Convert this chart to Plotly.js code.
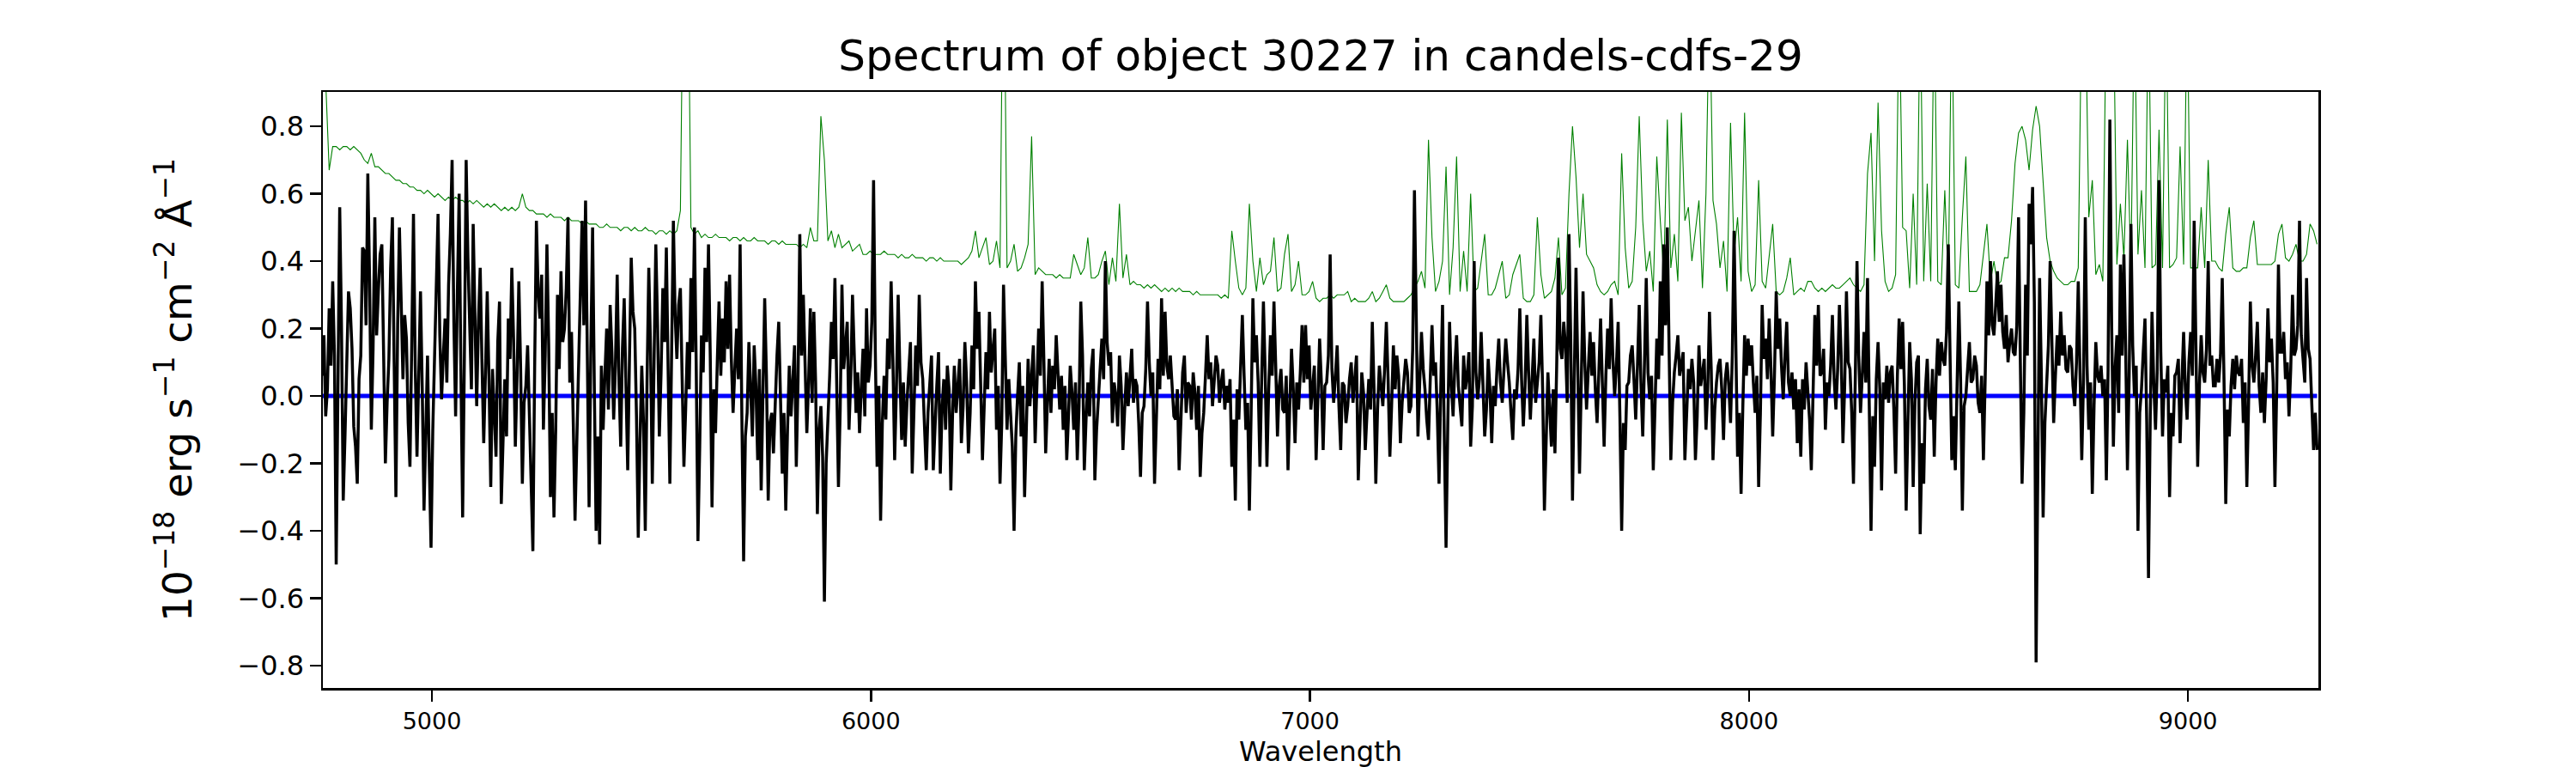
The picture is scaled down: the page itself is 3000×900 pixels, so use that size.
<!DOCTYPE html>
<html>
<head>
<meta charset="utf-8">
<script src="https://cdn.plot.ly/plotly-3.0.1.min.js"></script>
<style>
  html, body { margin: 0; padding: 0; background: #fff; }
</style>
</head>
<body>
<div id="chart" style="width:3000px;height:900px;"></div>
<script>
// flux grid (Angstrom): one row = 40 pixels = 160 A
const fluxStart = 4750;
const fluxStep = 4;

// flux, 10^-18 erg/s/cm2/A
const flux = [
  0.06,0.18,-0.06,0.02,0.26,0.09,0.34,0.12,-0.50,-0.05,0.56,0.21,-0.31,-0.12,0.06,0.31,0.26,0.14,-0.09,-0.15,-0.26,0.05,0.12,0.44,0.43,0.21,0.66,0.35,-0.10,0.14,0.53,0.18,0.31,0.42,0.45,0.08,-0.20,-0.02,0.11,0.38,
  0.53,0.10,-0.30,0.21,0.50,0.28,0.05,0.24,0.17,-0.08,-0.21,0.15,0.54,0.09,-0.18,0.06,0.31,0.02,-0.34,-0.11,0.12,-0.20,-0.45,-0.10,0.12,0.30,0.54,0.18,-0.01,0.12,0.23,0.04,0.33,0.48,0.70,0.22,-0.06,0.31,0.60,0.08,
  -0.36,0.12,0.70,0.41,0.20,0.02,0.51,0.19,-0.03,0.22,0.38,0.10,-0.14,0.07,0.31,0.05,-0.27,0.08,-0.04,-0.18,0.16,0.28,-0.32,-0.09,0.05,-0.12,0.23,0.11,0.38,0.17,-0.15,0.06,0.34,0.09,-0.26,-0.02,0.03,0.15,-0.07,-0.21,
  -0.46,0.08,0.52,0.31,0.23,0.36,-0.10,0.12,0.45,0.15,-0.30,-0.05,-0.36,-0.10,0.30,0.08,0.37,0.16,0.20,0.32,0.53,0.04,0.19,-0.08,-0.37,-0.14,0.06,0.28,0.52,0.21,0.58,0.12,-0.33,0.14,0.50,0.02,-0.40,-0.12,-0.44,0.09,
  -0.10,0.06,0.20,-0.04,0.27,0.13,-0.07,0.09,0.36,0.05,-0.15,0.14,0.29,0.03,-0.22,0.11,0.41,0.25,0.20,-0.06,-0.42,-0.13,0.09,-0.08,-0.40,0.04,0.38,0.14,-0.26,0.10,0.45,0.21,-0.12,0.07,0.32,0.16,0.44,0.08,-0.26,0.13,
  0.52,0.24,0.11,0.27,0.32,0.05,-0.21,-0.04,0.16,0.02,0.35,0.13,0.50,0.09,-0.43,-0.15,0.18,0.07,0.38,0.16,0.45,0.12,-0.33,0.02,-0.11,0.10,0.28,0.06,0.23,0.10,0.34,0.14,0.36,0.11,-0.05,0.08,0.20,0.05,0.45,-0.06,
  -0.49,-0.12,-0.05,0.16,0.02,-0.12,0.15,0.03,-0.19,0.08,-0.28,-0.04,0.29,0.06,-0.31,-0.08,-0.05,-0.17,0.00,0.12,0.22,0.03,-0.23,-0.05,-0.34,-0.10,0.09,-0.06,0.03,0.15,-0.21,0.05,0.48,0.12,0.30,0.07,-0.11,0.04,0.26,-0.02,
  0.25,0.04,-0.35,-0.10,-0.03,-0.18,-0.61,-0.20,-0.08,0.06,0.22,0.11,0.35,0.05,-0.27,-0.04,0.33,0.08,0.15,0.22,-0.10,0.05,0.30,0.12,-0.05,0.07,-0.11,0.02,0.14,-0.06,0.26,0.04,0.09,0.22,0.64,0.13,-0.21,0.03,-0.37,-0.08,
  0.06,-0.07,0.17,0.08,0.34,0.11,-0.19,0.02,0.30,0.07,-0.13,0.04,-0.15,-0.02,0.08,0.16,-0.23,-0.06,0.15,0.03,0.30,0.10,0.05,-0.09,-0.22,-0.05,0.05,0.12,-0.22,-0.08,0.03,0.13,-0.23,-0.04,0.05,-0.10,0.09,0.02,-0.28,-0.05,
  0.09,-0.05,0.02,0.11,-0.14,-0.03,0.16,0.04,-0.17,-0.05,0.15,0.02,0.34,0.14,0.25,0.06,-0.19,-0.03,0.13,0.02,0.25,0.07,0.13,0.20,-0.10,0.03,-0.26,-0.08,0.33,0.09,-0.10,0.05,-0.06,-0.15,-0.40,-0.12,0.00,0.10,-0.12,0.03,
  -0.30,-0.06,0.11,-0.03,0.07,0.15,-0.14,0.02,0.20,0.06,0.34,0.10,-0.17,-0.02,0.11,-0.05,0.09,0.02,0.18,0.07,-0.04,0.06,-0.10,0.03,-0.19,-0.06,0.09,0.01,-0.10,0.04,-0.19,-0.03,0.28,0.12,-0.22,-0.07,0.04,-0.06,0.08,0.14,
  -0.25,-0.10,-0.02,0.08,0.17,0.05,0.40,0.16,0.09,0.13,-0.08,0.04,0.00,-0.09,0.12,0.03,-0.16,-0.04,0.07,-0.03,0.06,0.14,-0.02,0.05,0.03,-0.08,-0.24,-0.05,-0.03,0.08,0.28,0.10,0.00,0.07,-0.26,-0.09,0.11,0.02,0.29,0.06,
  0.25,0.09,0.05,0.12,0.04,-0.06,-0.07,0.02,-0.22,-0.08,0.07,0.12,-0.05,0.04,0.03,-0.07,0.07,0.01,-0.10,0.03,-0.24,-0.11,-0.05,0.06,0.18,0.05,0.10,-0.03,0.05,0.12,0.09,-0.02,0.04,0.08,-0.04,0.03,-0.02,0.05,-0.21,-0.07,
  -0.31,0.02,-0.07,0.08,0.24,0.06,-0.10,-0.02,-0.34,-0.05,0.29,0.10,0.18,0.04,-0.21,0.05,0.28,0.07,-0.21,0.02,0.18,0.06,0.28,0.09,-0.12,0.03,0.08,-0.04,-0.05,0.06,-0.22,-0.03,0.14,0.02,-0.14,0.04,-0.04,0.07,0.21,0.04,
  0.21,0.05,0.15,-0.04,0.03,0.09,-0.19,-0.02,0.17,0.04,-0.16,0.03,0.04,0.12,0.42,0.08,-0.02,0.06,0.15,-0.03,-0.16,0.04,0.03,-0.08,-0.03,0.05,0.10,-0.02,0.06,0.12,-0.25,-0.06,0.07,0.01,-0.16,-0.05,0.05,-0.04,0.22,0.02,
  -0.26,-0.04,0.09,0.03,-0.03,0.08,0.22,0.05,-0.18,-0.03,0.15,0.02,0.12,0.06,-0.14,-0.02,0.04,0.11,0.07,-0.05,-0.03,0.14,0.61,0.20,-0.12,0.04,0.19,0.08,0.02,-0.07,-0.13,0.05,0.21,0.06,0.10,-0.05,-0.26,0.03,0.27,-0.12,
  -0.45,-0.08,0.22,0.04,-0.06,0.09,0.18,0.03,-0.02,-0.09,0.12,0.02,0.06,0.13,-0.15,-0.03,0.40,0.07,-0.01,0.05,0.19,0.06,-0.12,-0.04,0.11,0.02,-0.14,0.03,-0.03,0.08,0.17,0.04,-0.02,0.08,0.17,0.10,0.04,-0.05,-0.13,0.02,
  -0.01,0.08,0.26,0.05,-0.09,0.03,0.24,0.07,-0.07,0.05,0.17,-0.02,0.03,0.10,0.24,0.02,-0.34,-0.10,0.07,-0.04,-0.15,0.02,-0.17,0.09,0.41,0.14,0.11,0.22,0.15,-0.02,0.48,0.17,-0.31,0.05,0.38,0.09,-0.23,0.04,0.31,0.10,
  -0.04,0.08,0.19,0.06,0.16,0.02,-0.08,0.07,0.23,0.04,-0.15,0.06,0.20,0.08,0.29,0.11,0.00,0.09,0.22,-0.06,-0.40,-0.08,-0.16,0.03,0.04,0.12,0.15,0.05,-0.07,0.09,0.27,0.03,-0.12,0.10,0.35,0.07,-0.01,0.06,-0.22,-0.03,
  0.17,0.05,0.34,0.12,0.45,0.21,0.50,0.14,-0.19,-0.02,0.07,0.12,0.18,0.06,0.10,0.13,-0.19,-0.05,0.08,0.02,0.11,0.04,-0.19,-0.06,0.15,0.03,0.08,0.11,-0.10,0.02,0.25,0.08,-0.19,-0.04,0.04,0.09,0.11,0.02,-0.13,0.05,
  0.10,0.03,-0.08,0.12,0.49,0.09,-0.18,-0.05,-0.29,-0.03,0.18,0.06,0.17,0.09,0.15,0.04,-0.05,0.06,-0.27,-0.05,0.27,0.11,0.17,0.05,0.23,0.08,-0.12,0.06,0.31,0.14,0.23,0.09,-0.01,0.12,0.22,0.04,0.00,0.07,-0.04,0.05,
  -0.14,0.02,-0.18,0.05,-0.04,0.10,0.02,-0.07,-0.22,0.03,0.24,0.09,0.27,0.06,0.07,0.14,-0.10,0.04,0.00,0.09,0.24,0.05,-0.04,0.08,0.27,0.12,-0.14,0.03,0.31,0.10,0.08,-0.05,-0.26,0.04,0.40,0.12,-0.05,0.06,0.19,0.04,
  0.35,-0.03,-0.40,-0.06,-0.21,0.05,0.16,0.02,-0.28,0.04,-0.01,0.09,-0.02,0.07,0.09,-0.04,-0.23,0.06,0.23,0.08,0.22,0.03,-0.34,-0.08,0.16,0.05,-0.27,-0.02,0.10,0.12,-0.41,-0.14,-0.26,0.02,0.11,-0.03,-0.07,0.08,-0.18,0.04,
  0.17,0.06,0.16,0.11,0.09,0.19,0.45,0.12,-0.19,-0.06,-0.22,0.03,0.28,0.05,-0.34,-0.03,0.00,0.08,0.16,0.04,0.05,0.12,0.09,-0.02,-0.05,0.06,-0.19,0.05,0.34,0.18,0.40,0.21,0.18,0.27,0.37,0.22,0.33,0.19,0.14,0.24,
  0.10,0.16,0.20,0.13,0.12,0.21,0.53,0.11,-0.26,-0.05,0.33,0.12,0.57,0.45,0.62,0.28,-0.79,-0.20,0.35,0.06,-0.36,-0.08,0.04,0.15,0.40,0.10,-0.08,0.06,0.18,0.09,0.25,0.12,0.18,0.08,0.07,0.15,0.14,0.03,-0.03,0.10,
  0.34,0.07,-0.19,0.05,0.53,0.09,-0.10,0.04,-0.29,-0.03,0.16,0.06,0.04,0.09,0.00,0.05,-0.25,0.08,0.82,0.22,-0.15,0.08,0.18,-0.05,0.39,0.12,0.42,0.14,-0.22,0.06,0.51,0.15,0.00,0.09,-0.40,-0.05,0.02,0.13,0.23,-0.08,
  -0.54,-0.06,0.25,0.04,-0.10,0.08,0.64,0.13,-0.12,0.05,0.01,0.09,-0.30,-0.05,-0.12,0.06,0.07,0.11,-0.14,0.04,0.19,0.02,-0.07,0.10,0.19,0.06,0.52,0.15,-0.21,0.03,0.18,0.07,0.04,0.14,0.40,0.09,0.12,0.03,0.03,0.11,
  0.04,0.12,0.35,0.05,-0.32,-0.04,-0.12,0.03,0.11,0.02,0.12,0.07,0.06,0.11,-0.08,0.04,-0.27,-0.02,0.28,0.09,0.04,0.12,0.22,0.03,-0.05,0.07,-0.08,0.05,0.26,0.10,0.17,0.04,-0.27,0.02,0.39,0.13,0.13,0.19,0.05,0.10,
  -0.06,0.08,0.30,0.12,0.14,0.21,0.52,0.18,0.11,0.04,0.35,0.14,0.11,-0.03,-0.16,-0.05,-0.16
];

// noise / sky spectrum grid (Angstrom): one row = 20 pixels = 160 A
const noiseStart = 4750;
const noiseStep = 8;

const noise = [
  1.20,0.95,0.67,0.74,0.74,0.73,0.74,0.74,0.73,0.74,0.73,0.72,0.70,0.69,0.72,0.68,0.68,0.67,0.66,0.66,
  0.65,0.64,0.64,0.63,0.63,0.62,0.62,0.61,0.61,0.60,0.61,0.60,0.59,0.60,0.59,0.58,0.59,0.58,0.59,0.58,
  0.58,0.57,0.58,0.57,0.58,0.57,0.56,0.57,0.56,0.57,0.56,0.55,0.56,0.55,0.56,0.55,0.56,0.60,0.56,0.55,
  0.55,0.54,0.54,0.54,0.53,0.54,0.53,0.53,0.53,0.52,0.53,0.52,0.52,0.52,0.51,0.52,0.51,0.51,0.51,0.50,
  0.50,0.51,0.50,0.50,0.50,0.49,0.50,0.50,0.49,0.50,0.49,0.49,0.50,0.49,0.49,0.48,0.49,0.49,0.48,0.49,
  0.48,0.49,0.55,1.50,1.50,0.50,0.48,0.49,0.47,0.48,0.47,0.47,0.48,0.47,0.47,0.47,0.46,0.47,0.47,0.46,
  0.47,0.46,0.46,0.47,0.46,0.46,0.46,0.45,0.46,0.46,0.45,0.46,0.45,0.45,0.45,0.45,0.44,0.45,0.44,0.50,
  0.46,0.46,0.83,0.70,0.46,0.49,0.44,0.48,0.44,0.45,0.46,0.43,0.44,0.45,0.42,0.42,0.43,0.42,0.42,0.42,
  0.43,0.42,0.42,0.42,0.41,0.42,0.41,0.41,0.42,0.41,0.41,0.41,0.40,0.41,0.41,0.40,0.41,0.40,0.40,0.40,
  0.40,0.40,0.39,0.40,0.41,0.43,0.49,0.41,0.44,0.47,0.39,0.40,0.46,0.38,1.50,0.38,0.40,0.45,0.37,0.38,
  0.41,0.45,0.77,0.36,0.38,0.37,0.36,0.36,0.36,0.35,0.36,0.35,0.35,0.35,0.42,0.39,0.36,0.38,0.47,0.35,
  0.35,0.36,0.40,0.43,0.33,0.41,0.34,0.57,0.35,0.42,0.33,0.34,0.33,0.33,0.32,0.33,0.32,0.33,0.32,0.31,
  0.32,0.31,0.32,0.31,0.32,0.31,0.31,0.31,0.30,0.31,0.30,0.30,0.30,0.30,0.30,0.30,0.29,0.30,0.29,0.49,
  0.40,0.32,0.30,0.32,0.57,0.40,0.31,0.41,0.33,0.36,0.37,0.47,0.31,0.32,0.42,0.48,0.31,0.33,0.40,0.30,
  0.30,0.31,0.34,0.29,0.28,0.29,0.29,0.30,0.29,0.30,0.30,0.30,0.31,0.28,0.29,0.28,0.28,0.28,0.29,0.31,
  0.28,0.29,0.31,0.33,0.29,0.28,0.28,0.28,0.28,0.29,0.30,0.32,0.34,0.37,0.32,0.76,0.47,0.31,0.34,0.40,
  0.68,0.30,0.44,0.71,0.31,0.43,0.31,0.60,0.31,0.32,0.40,0.48,0.30,0.30,0.32,0.36,0.40,0.29,0.30,0.36,
  0.39,0.42,0.29,0.28,0.28,0.30,0.53,0.36,0.29,0.30,0.31,0.35,0.47,0.30,0.32,0.60,0.80,0.65,0.44,0.60,
  0.42,0.40,0.38,0.33,0.31,0.30,0.31,0.33,0.34,0.30,0.72,0.44,0.32,0.34,0.50,0.83,0.52,0.37,0.43,0.31,
  0.71,0.52,0.36,0.82,0.38,0.48,0.34,0.84,0.52,0.56,0.40,0.49,0.58,0.32,0.60,1.20,0.58,0.51,0.38,0.46,
  0.31,0.81,0.42,0.53,0.34,0.84,0.37,0.31,0.33,0.64,0.34,0.32,0.41,0.51,0.31,0.30,0.31,0.35,0.41,0.30,
  0.31,0.32,0.31,0.34,0.34,0.32,0.31,0.32,0.31,0.32,0.33,0.32,0.32,0.33,0.34,0.35,0.33,0.32,0.31,0.33,
  0.66,0.78,0.40,0.87,0.49,0.34,0.31,0.32,0.36,1.20,0.50,0.49,0.32,0.60,0.33,1.20,0.34,0.63,0.34,1.20,
  0.34,0.33,0.61,0.33,1.20,0.33,0.32,0.53,0.71,0.31,0.31,0.31,0.33,0.42,0.51,0.34,0.40,0.33,0.34,0.41,
  0.41,0.52,0.69,0.78,0.80,0.76,0.67,0.79,0.86,0.80,0.62,0.47,0.40,0.37,0.35,0.34,0.33,0.33,0.34,0.34,
  0.38,1.20,1.20,0.53,0.64,0.36,0.39,0.34,1.20,1.20,1.20,0.39,0.57,0.41,0.76,0.38,1.20,0.42,0.61,0.38,
  1.20,0.38,0.39,0.79,0.38,1.20,0.38,0.39,0.41,0.74,0.39,1.20,0.38,0.38,0.38,0.56,0.38,0.70,0.40,0.40,
  0.38,0.37,0.48,0.56,0.38,0.37,0.37,0.38,0.38,0.47,0.52,0.39,0.39,0.39,0.39,0.39,0.40,0.48,0.51,0.41,
  0.40,0.42,0.45,0.40,0.40,0.42,0.51,0.49,0.45
];

// continuum model (flat zero)
const modelWave = [4750, 9294];
const modelFlux = [0, 0];

const xTicks = [5000, 6000, 7000, 8000, 9000];
const yTicks = [-0.8, -0.6, -0.4, -0.2, 0.0, 0.2, 0.4, 0.6, 0.8];

let noiseTrace = {
  x0: noiseStart,
  dx: noiseStep,
  y: noise,
  type: 'scatter',
  mode: 'lines',
  line: {color: '#008000', width: 1.1},
  hoverinfo: 'skip'
};

let modelTrace = {
  x: modelWave,
  y: modelFlux,
  type: 'scatter',
  mode: 'lines',
  line: {color: '#0000ff', width: 5},
  hoverinfo: 'skip'
};

let fluxTrace = {
  x0: fluxStart,
  dx: fluxStep,
  y: flux,
  type: 'scatter',
  mode: 'lines',
  line: {color: '#000000', width: 3.5},
  hoverinfo: 'skip'
};

let layout = {
  width: 3000,
  height: 900,
  autosize: false,
  showlegend: false,
  paper_bgcolor: '#ffffff',
  plot_bgcolor: '#ffffff',
  font: {family: 'DejaVu Sans', color: '#000000'},
  margin: {l: 376, r: 300, t: 107, b: 99, pad: 0},
  title: {
    text: 'Spectrum of object 30227 in candels-cdfs-29',
    font: {size: 50, family: 'DejaVu Sans', color: '#000000'},
    x: 0.5, xref: 'paper', xanchor: 'center',
    y: 0.948, yref: 'container', yanchor: 'top'
  },
  xaxis: {
    range: [4751.6, 9297],
    tickvals: xTicks,
    ticktext: xTicks.map(String),
    ticks: 'outside', ticklen: 13, tickwidth: 2.5, tickcolor: '#000000',
    tickfont: {size: 27},
    showline: true, mirror: true, linecolor: '#000000', linewidth: 2.5,
    showgrid: false, zeroline: false,
    title: {text: 'Wavelength', font: {size: 32}, standoff: 10}
  },
  yaxis: {
    range: [-0.866, 0.902],
    tickvals: yTicks,
    tickformat: '.1f',
    ticks: 'outside', ticklen: 13, tickwidth: 2.5, tickcolor: '#000000',
    tickfont: {size: 32},
    showline: true, mirror: true, linecolor: '#000000', linewidth: 2.5,
    showgrid: false, zeroline: false,
    title: {
      text: '10<sup>\u221218</sup> erg s<sup>\u22121</sup> cm<sup>\u22122</sup> \u00c5<sup>\u22121</sup>',
      font: {size: 47}, standoff: 38
    }
  }
};

Plotly.newPlot('chart', [noiseTrace, modelTrace, fluxTrace], layout, {staticPlot: true, displayModeBar: false});
</script>
</body>
</html>
